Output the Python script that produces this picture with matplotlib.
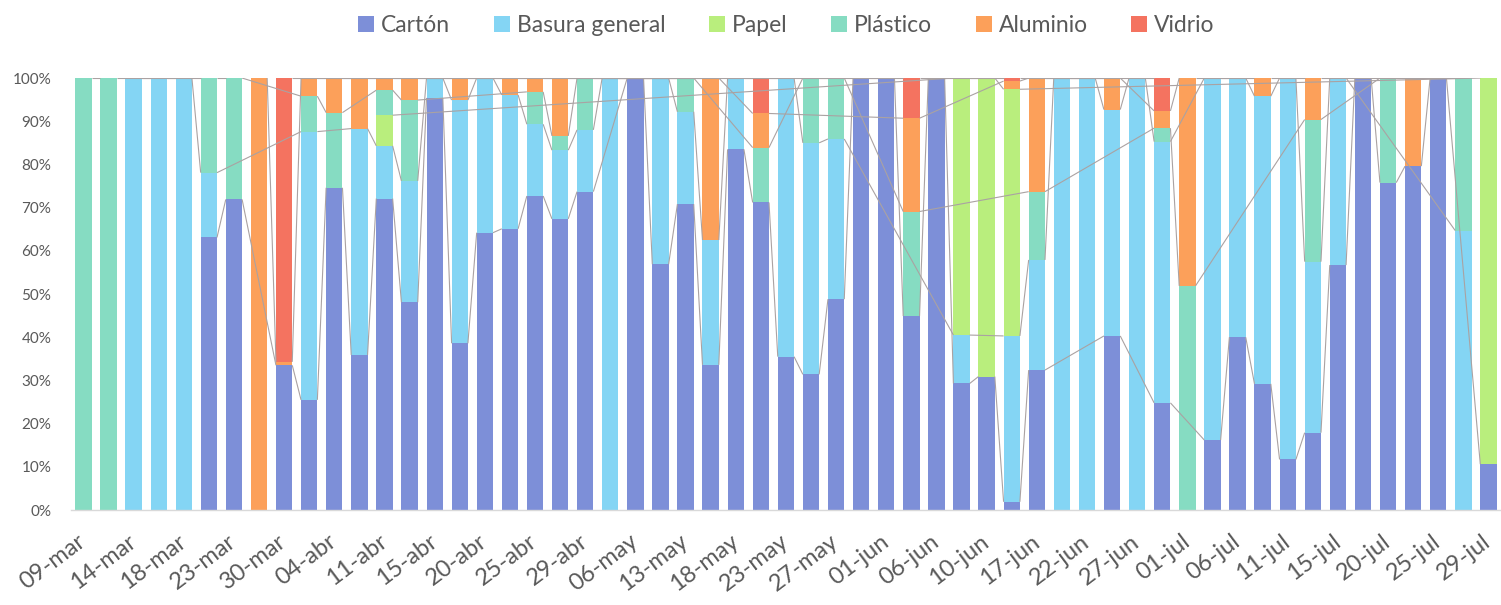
import matplotlib
matplotlib.use("Agg")
import matplotlib.pyplot as plt
import numpy as np

tick_labels = ["09-mar", "14-mar", "18-mar", "23-mar", "30-mar", "04-abr", "11-abr",
               "15-abr", "20-abr", "25-abr", "29-abr", "06-may", "13-may", "18-may",
               "23-may", "27-may", "01-jun", "06-jun", "10-jun", "17-jun", "22-jun",
               "27-jun", "01-jul", "06-jul", "11-jul", "15-jul", "20-jul", "25-jul",
               "29-jul"]

series_names = ["Cartón", "Basura general", "Papel", "Plástico", "Aluminio", "Vidrio"]
colors = ["#7d8fd8", "#84d5f4", "#b9ee7d", "#86dcc2", "#fca05a", "#f47360"]

carton = [0, 0, 0, 0, 0, 63.1, 71.9, 0, 33.5, 25.5, 74.6, 35.9, 72.1, 48.1, 95.4,
          38.6, 64.2, 65.1, 72.7, 67.4, 73.7, 0, 100, 56.9, 70.8, 33.6, 83.5, 71.2,
          35.5, 31.4, 48.8, 100, 100, 44.9, 100, 29.3, 30.9, 1.9, 32.4, 0, 0, 40.3,
          0, 24.8, 0, 16.2, 40.0, 29.2, 11.7, 17.9, 56.7, 100, 75.8, 79.6, 100, 0,
          10.6]
basura = [0, 0, 100, 100, 100, 15.0, 0, 0, 0, 62.1, 0, 52.4, 12.2, 28.1, 4.6,
          56.3, 35.8, 31.0, 16.6, 15.9, 14.3, 100, 0, 43.1, 21.4, 28.9, 16.5, 0,
          64.5, 53.6, 37.1, 0, 0, 0, 0, 11.2, 0, 38.4, 25.5, 100, 100, 52.4,
          100, 60.5, 0, 83.8, 60.0, 66.6, 88.3, 39.6, 43.3, 0, 0, 0, 0, 64.7,
          0]
papel = [0, 0, 0, 0, 0, 0, 0, 0, 0, 0, 0, 0, 7.1, 0, 0,
         0, 0, 0, 0, 0, 0, 0, 0, 0, 0, 0, 0, 0,
         0, 0, 0, 0, 0, 0, 0, 59.5, 69.1, 57.1, 0, 0, 0, 0,
         0, 0, 0, 0, 0, 0, 0, 0, 0, 0, 0, 0, 0, 0,
         89.4]
plastico = [100, 100, 0, 0, 0, 21.9, 28.1, 0, 0, 8.2, 17.4, 0, 5.8, 18.7, 0,
            0, 0, 0, 7.5, 3.3, 12.0, 0, 0, 0, 7.8, 0, 0, 12.7,
            0, 15.0, 14.1, 0, 0, 24.2, 0, 0, 0, 0, 15.8, 0, 0, 0,
            0, 3.1, 51.9, 0, 0, 0, 0, 32.9, 0, 0, 24.2, 0, 0, 35.3,
            0]
aluminio = [0, 0, 0, 0, 0, 0, 0, 100, 0.8, 4.2, 8.0, 11.7, 2.8, 5.1, 0,
            5.1, 0, 3.9, 3.2, 13.4, 0, 0, 0, 0, 0, 37.5, 0, 7.9,
            0, 0, 0, 0, 0, 21.6, 0, 0, 0, 1.9, 26.3, 0, 0, 7.3,
            0, 4.0, 48.1, 0, 0, 4.2, 0, 9.6, 0, 0, 0, 20.4, 0, 0,
            0]
vidrio = [0, 0, 0, 0, 0, 0, 0, 0, 65.7, 0, 0, 0, 0, 0, 0,
          0, 0, 0, 0, 0, 0, 0, 0, 0, 0, 0, 0, 8.2,
          0, 0, 0, 0, 0, 9.3, 0, 0, 0, 0.7, 0, 0, 0, 0,
          0, 7.6, 0, 0, 0, 0, 0, 0, 0, 0, 0, 0, 0, 0,
          0]

plt.rcParams['font.family'] = ['Lato', 'DejaVu Sans']
txt = '#595959'

data = np.array([carton, basura, papel, plastico, aluminio, vidrio], dtype=float)
n = data.shape[1]
x = np.arange(n)
width = 0.65

fig = plt.figure(figsize=(15.01, 6.05), dpi=100)
ax = fig.add_axes([0.0472, 0.157, 0.9528, 0.714])

bottom = np.zeros(n)
handles = []
for k, name in enumerate(series_names):
    h = ax.bar(x, data[k], width, bottom=bottom, color=colors[k], label=name,
               linewidth=0, zorder=2)
    handles.append(h)
    top = bottom + data[k]
    # Excel-style series lines, skipping blank (zero) categories
    idx = [i for i in range(n) if data[k][i] > 0]
    for a, b in zip(idx[:-1], idx[1:]):
        ax.plot([a + width / 2, b - width / 2], [top[a], top[b]],
                color='#aaa2a2', lw=0.8, zorder=3, solid_capstyle='butt')
    bottom = top

ax.set_xlim(-0.5, n - 0.5)
ax.set_ylim(0, 100)
ax.set_yticks(np.arange(0, 101, 10))
ax.set_yticklabels([f"{v}%" for v in range(0, 101, 10)], color=txt, fontsize=11)
ax.set_xticks(x[::2])
ax.set_xticklabels(tick_labels, rotation=37, ha='right', rotation_mode='anchor',
                   va='center', color=txt, fontsize=17)
ax.tick_params(axis='both', length=0)
ax.tick_params(axis='y', pad=14)
ax.tick_params(axis='x', pad=21)
for s in ['left', 'right', 'top']:
    ax.spines[s].set_visible(False)
ax.spines['bottom'].set_color('#d9d9d9')
ax.spines['bottom'].set_linewidth(1.0)

fig.legend(handles=handles, labels=series_names, loc='center', ncol=6,
           bbox_to_anchor=(0.524, 0.958), frameon=False, fontsize=16.5,
           handlelength=0.7, handleheight=0.7, handletextpad=0.3,
           columnspacing=1.9, labelcolor=txt)

fig.savefig("out.png", dpi=100)
